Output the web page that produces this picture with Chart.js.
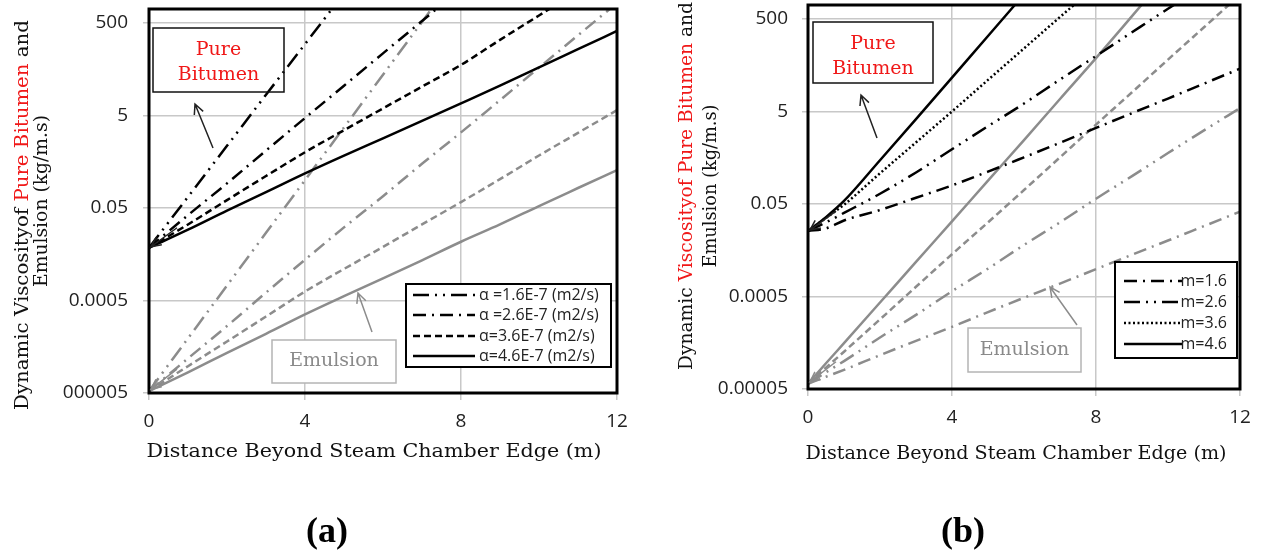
<!DOCTYPE html>
<html>
<head>
<meta charset="utf-8">
<script src="https://cdn.jsdelivr.net/npm/chart.js@4.4.1/dist/chart.umd.min.js"></script>
<style>
  body { margin: 0; background: #fff; width: 1261px; height: 556px; overflow: hidden; position: relative; }
  canvas { position: absolute; top: 0; }
  #chartA { left: 0; }
  #chartB { left: 640px; }
</style>
</head>
<body>
<canvas id="chartA" width="630" height="556"></canvas>
<canvas id="chartB" width="621" height="556"></canvas>
<script>
// distance beyond steam chamber edge (m)
const distA = [0, 1, 2, 3, 4, 5, 6, 7, 8, 9, 10, 11, 12];
const distB = [0, 0.5, 1, 2, 3, 4, 5, 6, 7, 8, 9, 10, 11, 12];

// (a) viscosity, kg/m.s  (null = past the top of the plot)
const bitA16 = [0.0069, 0.087, 1.1, 14, 174, 2200, null, null, null, null, null, null, null];
const bitA26 = [0.0069, 0.035, 0.17, 0.87, 4.4, 22, 110, 550, 2750, null, null, null, null];
const bitA36 = [0.0069, 0.022, 0.074, 0.245, 0.8, 2.4, 7.1, 21, 62, 215, 725, 2450, null];
const bitA46 = [0.0069, 0.017, 0.044, 0.11, 0.28, 0.68, 1.6, 3.8, 9.1, 22, 55, 135, 336];
const emuA16 = [5.5e-6, 7.6e-5, 1.05e-3, 0.0145, 0.2, 2.75, 38, 525, 7200, null, null, null, null];
const emuA26 = [5.5e-6, 2.8e-5, 1.4e-4, 7.4e-4, 3.8e-3, 0.019, 0.09, 0.45, 2.15, 10.7, 54, 270, 1350];
const emuA36 = [5.5e-6, 1.9e-5, 6.5e-5, 2.25e-4, 7.8e-4, 2.4e-3, 7.2e-3, 0.022, 0.067, 0.21, 0.68, 2.1, 6.5];
const emuA46 = [5.5e-6, 1.4e-5, 3.7e-5, 9.5e-5, 2.5e-4, 6.2e-4, 1.5e-3, 3.7e-3, 0.0093, 0.022, 0.055, 0.135, 0.33];

// (b) viscosity, kg/m.s
const bitB16 = [0.013, 0.0148, 0.022, 0.037, 0.068, 0.126, 0.25, 0.51, 1.05, 2.2, 4.6, 9.5, 20, 42];
const bitB26 = [0.013, 0.020, 0.032, 0.083, 0.24, 0.76, 2.4, 7.4, 24.5, 79, 257, 830, 2600, null];
const bitB36 = [0.013, 0.025, 0.048, 0.23, 1.07, 5, 24, 115, 550, 2600, null, null, null, null];
const bitB46 = [0.013, 0.026, 0.058, 0.44, 3.4, 27, 214, 1700, null, null, null, null, null, null];
const emuB16 = [6.5e-6, 9.2e-6, 1.3e-5, 2.7e-5, 5.5e-5, 1.1e-4, 2.3e-4, 4.7e-4, 9.5e-4, 1.95e-3, 4e-3, 8.1e-3, 0.0166, 0.034];
const emuB26 = [6.5e-6, 1.15e-5, 2.0e-5, 6.5e-5, 2.0e-4, 6.5e-4, 2.0e-3, 6.5e-3, 0.02, 0.065, 0.2, 0.63, 1.95, 5.9];
const emuB36 = [6.5e-6, 1.45e-5, 3.2e-5, 1.6e-4, 8.1e-4, 4.1e-3, 0.02, 0.1, 0.51, 2.6, 13, 66, 330, 1650];
const emuB46 = [6.5e-6, 1.8e-5, 4.9e-5, 3.7e-4, 2.8e-3, 0.021, 0.16, 1.2, 9.3, 71, 575, 4700, null, null];

// ticks
const xTicks = [0, 4, 8, 12];
const yTicks = [5e-6, 5e-4, 0.05, 5, 500];
const yLabelsA = ['000005', '0.0005', '0.05', '5', '500'];
const yLabelsB = ['0.00005', '0.0005', '0.05', '5', '500'];

const legendA = ['α =1.6E-7 (m2/s)', 'α =2.6E-7 (m2/s)', 'α=3.6E-7 (m2/s)', 'α=4.6E-7 (m2/s)'];
const legendB = ['m=1.6', 'm=2.6', 'm=3.6', 'm=4.6'];

const DASH_DOT_DOT = [16, 6, 2, 6, 2, 6];
const DASH_DOT = [13, 6, 2, 6];
const SHORT_DASH = [7, 4];
const DOTTED = [2, 2.5];
const SOLID = [];
const GREY = '#8c8c8c';
const TICK_FONT = { family: '"Open Sans"', size: 19 };
const SERIF = '"DejaVu Serif"';

function pts(xs, ys) {
  return xs.map((x, i) => ({ x: x, y: ys[i] })).filter(p => p.y !== null);
}

function line(xs, ys, color, dash) {
  return {
    data: pts(xs, ys), borderColor: color, borderWidth: 2.5, borderDash: dash,
    pointRadius: 0, cubicInterpolationMode: 'monotone', fill: false
  };
}

function arrow(ctx, x1, y1, x2, y2, color) {
  const a = Math.atan2(y2 - y1, x2 - x1);
  ctx.save();
  ctx.strokeStyle = color;
  ctx.lineWidth = 1.5;
  ctx.beginPath();
  ctx.moveTo(x1, y1); ctx.lineTo(x2, y2);
  ctx.moveTo(x2 - 11 * Math.cos(a - 0.45), y2 - 11 * Math.sin(a - 0.45));
  ctx.lineTo(x2, y2);
  ctx.lineTo(x2 - 11 * Math.cos(a + 0.45), y2 - 11 * Math.sin(a + 0.45));
  ctx.stroke();
  ctx.restore();
}

// draw a run of coloured pieces, stretched to a given length, centred at cx,cy
function fitText(ctx, pieces, cx, cy, len, font, rot) {
  ctx.save();
  ctx.font = font;
  ctx.textBaseline = 'middle';
  ctx.textAlign = 'left';
  const w = pieces.reduce((s, p) => s + ctx.measureText(p[0]).width, 0);
  ctx.translate(cx, cy);
  if (rot) ctx.rotate(-Math.PI / 2);
  ctx.scale(len / w, 1);
  let x = -w / 2;
  pieces.forEach(p => {
    ctx.fillStyle = p[1];
    ctx.fillText(p[0], x, 0);
    x += ctx.measureText(p[0]).width;
  });
  ctx.restore();
}

function centerText(ctx, txt, x, y, font, color) {
  ctx.save();
  ctx.font = font;
  ctx.fillStyle = color;
  ctx.textAlign = 'center';
  ctx.textBaseline = 'middle';
  ctx.fillText(txt, x, y);
  ctx.restore();
}

function decorPlugin(o) {
  return {
    id: 'decor',
    afterDraw(chart) {
      const ctx = chart.ctx;
      const ca = chart.chartArea;
      const L = ca.left, T = ca.top;
      // frame
      ctx.save();
      ctx.strokeStyle = '#000';
      ctx.lineWidth = 3;
      ctx.strokeRect(ca.left, ca.top, ca.right - ca.left, ca.bottom - ca.top);
      ctx.restore();

      // Pure Bitumen box
      const pb = o.pure;
      ctx.save();
      ctx.strokeStyle = '#111';
      ctx.lineWidth = 1.5;
      ctx.strokeRect(L + pb[0], T + pb[1], pb[2] - pb[0], pb[3] - pb[1]);
      ctx.restore();
      const pcx = L + (pb[0] + pb[2]) / 2;
      centerText(ctx, 'Pure', pcx, T + pb[1] + 22, '19px ' + SERIF, '#f01818');
      centerText(ctx, 'Bitumen', pcx, T + pb[1] + 47, '19px ' + SERIF, '#f01818');
      arrow(ctx, L + o.pureArrow[0], T + o.pureArrow[1], L + o.pureArrow[2], T + o.pureArrow[3], '#222');

      // Emulsion box
      const eb = o.emul;
      ctx.save();
      ctx.fillStyle = '#fff';
      ctx.fillRect(L + eb[0], T + eb[1], eb[2] - eb[0], eb[3] - eb[1]);
      ctx.strokeStyle = '#b4b4b4';
      ctx.lineWidth = 1.5;
      ctx.strokeRect(L + eb[0], T + eb[1], eb[2] - eb[0], eb[3] - eb[1]);
      ctx.restore();
      centerText(ctx, 'Emulsion', L + (eb[0] + eb[2]) / 2, T + (eb[1] + eb[3]) / 2, '19px ' + SERIF, '#8a8a8a');
      arrow(ctx, L + o.emulArrow[0], T + o.emulArrow[1], L + o.emulArrow[2], T + o.emulArrow[3], GREY);

      // small arrows at the common start points
      const xs = chart.scales.x, ys = chart.scales.y;
      const x0 = xs.getPixelForValue(0) + 2;
      const yb = ys.getPixelForValue(o.bitStart), ye = ys.getPixelForValue(o.emuStart);
      arrow(ctx, x0 + 26, yb - 20, x0, yb - 1, '#222');
      arrow(ctx, x0 + 26, ye - 22, x0, ye - 2, GREY);

      // legend
      const lg = o.legend;
      ctx.save();
      ctx.fillStyle = '#fff';
      ctx.fillRect(L + lg.box[0], T + lg.box[1], lg.box[2] - lg.box[0], lg.box[3] - lg.box[1]);
      ctx.strokeStyle = '#000';
      ctx.lineWidth = 2;
      ctx.strokeRect(L + lg.box[0], T + lg.box[1], lg.box[2] - lg.box[0], lg.box[3] - lg.box[1]);
      lg.labels.forEach((lab, i) => {
        const y = T + lg.rows[i];
        ctx.strokeStyle = '#000';
        ctx.lineWidth = 2.5;
        ctx.setLineDash(lg.dash[i]);
        ctx.beginPath();
        ctx.moveTo(L + lg.line[0], y);
        ctx.lineTo(L + lg.line[1], y);
        ctx.stroke();
        ctx.setLineDash([]);
        ctx.fillStyle = '#222';
        ctx.font = '16px "Open Sans"';
        ctx.textBaseline = 'middle';
        ctx.textAlign = lg.align;
        ctx.fillText(lab, L + lg.textX, y);
      });
      ctx.restore();

      // axis titles
      o.yTitle.forEach(t => fitText(ctx, t.pieces, t.x, t.y, t.len, '18px ' + SERIF, true));
      fitText(ctx, [['Distance Beyond Steam Chamber Edge (m)', '#111']], o.xTitle[0], o.xTitle[1], o.xTitle[2], '19px ' + SERIF, false);

      // panel caption
      centerText(ctx, o.caption[0], o.caption[1], o.caption[2], 'bold 36px "Liberation Serif"', '#000');
    }
  };
}

function makeChart(id, xs, series, yLabels, dims, decor) {
  return new Chart(document.getElementById(id), {
    type: 'line',
    data: { datasets: series },
    options: {
      responsive: false,
      animation: false,
      devicePixelRatio: 1,
      layout: { padding: { left: 0, top: dims.top, right: dims.right, bottom: 0 } },
      plugins: { legend: { display: false }, tooltip: { enabled: false } },
      scales: {
        x: {
          type: 'linear', min: 0, max: 12,
          afterBuildTicks: s => { s.ticks = xTicks.map(v => ({ value: v })); },
          afterFit: s => { s.height = dims.xH; s.paddingLeft = 0; s.paddingRight = 0; },
          ticks: { font: TICK_FONT, color: '#222', padding: 10 },
          grid: { color: '#c8c8c8', lineWidth: 1.5, tickLength: 7 },
          border: { display: false }
        },
        y: {
          type: 'logarithmic', min: 5e-6, max: 1000,
          afterBuildTicks: s => { s.ticks = yTicks.map(v => ({ value: v })); },
          afterFit: s => { s.width = dims.yW; s.paddingTop = 0; s.paddingBottom = 0; },
          ticks: { font: TICK_FONT, color: '#222', padding: dims.yPad, callback: (v, i) => yLabels[i] },
          grid: { color: '#c8c8c8', lineWidth: 1.5, tickLength: 6 },
          border: { display: false }
        }
      }
    },
    plugins: [decorPlugin(decor)]
  });
}

makeChart('chartA', distA, [
  line(distA, bitA16, '#000', DASH_DOT_DOT),
  line(distA, bitA26, '#000', DASH_DOT),
  line(distA, bitA36, '#000', SHORT_DASH),
  line(distA, bitA46, '#000', SOLID),
  line(distA, emuA16, GREY, DASH_DOT_DOT),
  line(distA, emuA26, GREY, DASH_DOT),
  line(distA, emuA36, GREY, SHORT_DASH),
  line(distA, emuA46, GREY, SOLID)
], yLabelsA, { top: 9, right: 13, xH: 163, yW: 149, yPad: 15 }, {
  pure: [4, 19, 135, 83],
  pureArrow: [64, 139, 46, 95],
  emul: [123, 331, 247, 374],
  emulArrow: [223, 323, 209, 284],
  bitStart: bitA16[0], emuStart: emuA16[0],
  legend: {
    box: [257, 275, 462, 358], rows: [286, 306, 327, 347], line: [264, 326],
    textX: 330, align: 'left', labels: legendA,
    dash: [DASH_DOT_DOT, DASH_DOT, SHORT_DASH, SOLID]
  },
  yTitle: [
    { pieces: [['Dynamic Viscosityof ', '#111'], ['Pure Bitumen', '#f01818'], [' and', '#111']], x: 23, y: 215, len: 390 },
    { pieces: [['Emulsion (kg/m.s)', '#111']], x: 42, y: 201, len: 172 }
  ],
  xTitle: [374, 452, 455],
  caption: ['(a)', 327, 533]
});

makeChart('chartB', distB, [
  line(distB, bitB16, '#000', DASH_DOT),
  line(distB, bitB26, '#000', DASH_DOT_DOT),
  line(distB, bitB36, '#000', DOTTED),
  line(distB, bitB46, '#000', SOLID),
  line(distB, emuB16, GREY, DASH_DOT),
  line(distB, emuB26, GREY, DASH_DOT_DOT),
  line(distB, emuB36, GREY, SHORT_DASH),
  line(distB, emuB46, GREY, SOLID)
], yLabelsB, { top: 5, right: 21, xH: 167, yW: 168, yPad: 14 }, {
  pure: [5, 17, 125, 78],
  pureArrow: [69, 133, 53, 90],
  emul: [160, 323, 273, 367],
  emulArrow: [269, 320, 242, 282],
  bitStart: bitB16[0], emuStart: emuB16[0],
  legend: {
    box: [307, 257, 429, 353], rows: [276, 297, 318, 339], line: [316, 374],
    textX: 419, align: 'right', labels: legendB,
    dash: [DASH_DOT, DASH_DOT_DOT, DOTTED, SOLID]
  },
  yTitle: [
    { pieces: [['Dynamic ', '#111'], ['Viscosityof Pure Bitumen', '#f01818'], [' and', '#111']], x: 47, y: 186, len: 368 },
    { pieces: [['Emulsion (kg/m.s)', '#111']], x: 71, y: 186, len: 163 }
  ],
  xTitle: [376, 454, 421],
  caption: ['(b)', 323, 533]
});
</script>
</body>
</html>
